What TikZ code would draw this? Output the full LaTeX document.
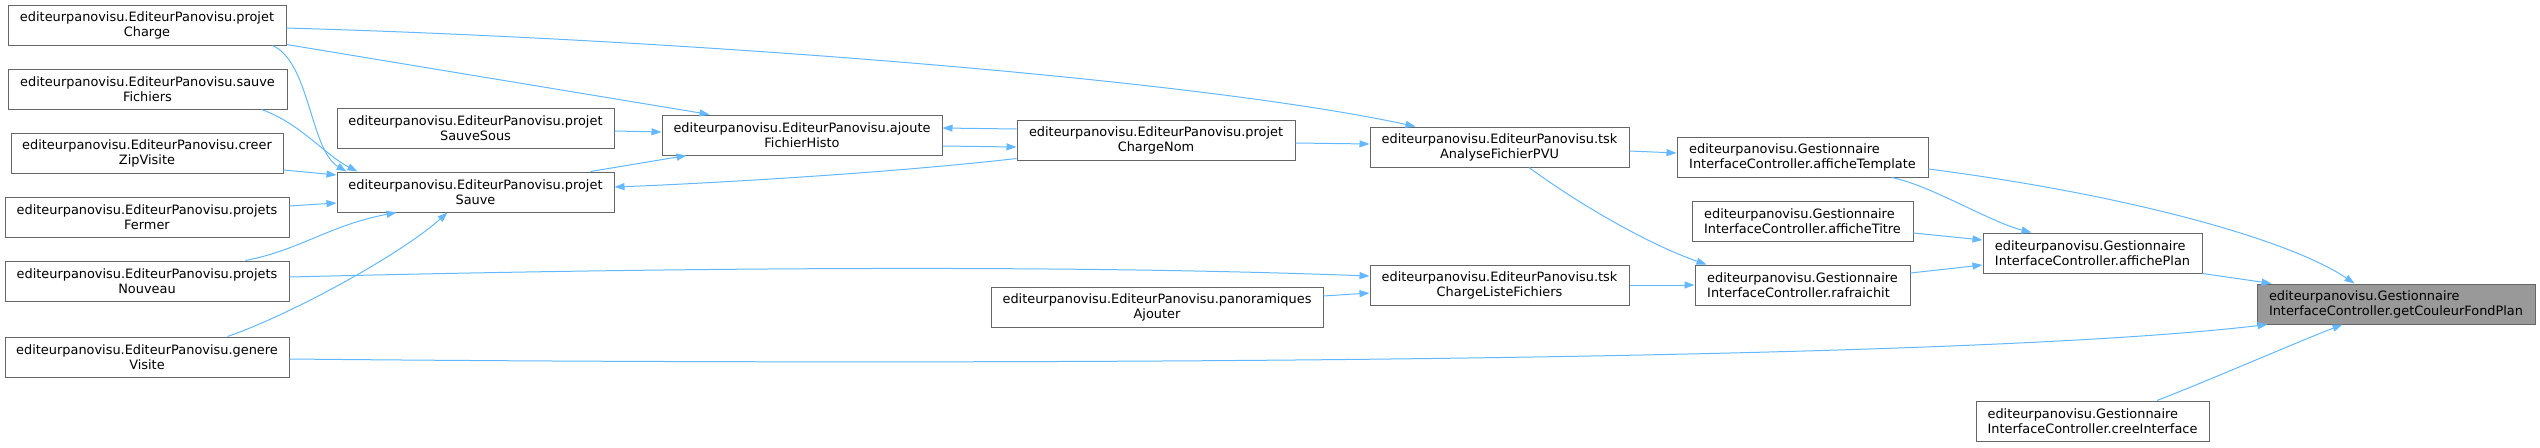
\documentclass[tikz,border=0pt]{standalone}
\usepackage{fontspec}
\setmainfont{DejaVu Sans}
\usepackage{tikz}
\usetikzlibrary{arrows.meta,positioning}
\usepackage{xcolor}
\definecolor{edgeblue}{HTML}{63B8FF}
\definecolor{boxborder}{HTML}{666666}
\definecolor{rootgrey}{HTML}{999999}

\begin{document}
\begin{tikzpicture}[
  x=1pt, y=-1pt,
  >={Triangle[length=10pt,width=7pt]},
  fnbox/.style={
    draw=boxborder,
    fill=white,
    line width=1pt,
    minimum height=40pt,
    inner xsep=6pt,
    inner ysep=0pt,
    font=\fontsize{12.9}{15}\selectfont,
    align=center
  },
  gbox/.style={
    fnbox,
    align=left
  },
  rootbox/.style={
    gbox,
    fill=rootgrey
  },
  calledge/.style={
    ->,
    draw=edgeblue,
    line width=1pt
  }
]
  \useasboundingbox (0,0) rectangle (2540,447);

  % Callers in EditeurPanovisu (left column)
  \node[fnbox, minimum width=278pt] (pc) at (147,25) {editeurpanovisu.EditeurPanovisu.projet\\Charge};
  \node[fnbox, minimum width=279pt] (sf) at (147.5,89) {editeurpanovisu.EditeurPanovisu.sauve\\Fichiers};
  \node[fnbox, minimum width=272pt] (cz) at (147,153) {editeurpanovisu.EditeurPanovisu.creer\\ZipVisite};
  \node[fnbox, minimum width=284pt] (pf) at (147,217) {editeurpanovisu.EditeurPanovisu.projets\\Fermer};
  \node[fnbox, minimum width=284pt] (pn) at (147,281) {editeurpanovisu.EditeurPanovisu.projets\\Nouveau};
  \node[fnbox, minimum width=284pt] (gv) at (147,357) {editeurpanovisu.EditeurPanovisu.genere\\Visite};

  % Second column
  \node[fnbox, minimum width=277pt] (pss) at (475.5,128) {editeurpanovisu.EditeurPanovisu.projet\\SauveSous};
  \node[fnbox, minimum width=277pt] (ps) at (475.5,192) {editeurpanovisu.EditeurPanovisu.projet\\Sauve};

  % Middle columns
  \node[fnbox, minimum width=280pt] (afh) at (802,135) {editeurpanovisu.EditeurPanovisu.ajoute\\FichierHisto};
  \node[fnbox, minimum width=278pt] (pcn) at (1156,140) {editeurpanovisu.EditeurPanovisu.projet\\ChargeNom};
  \node[fnbox, minimum width=332pt] (pa) at (1157,307) {editeurpanovisu.EditeurPanovisu.panoramiques\\Ajouter};
  \node[fnbox, minimum width=259pt] (tka) at (1499.5,147) {editeurpanovisu.EditeurPanovisu.tsk\\AnalyseFichierPVU};
  \node[fnbox, minimum width=259pt] (tkc) at (1499.5,285) {editeurpanovisu.EditeurPanovisu.tsk\\ChargeListeFichiers};

  % GestionnaireInterfaceController
  \node[gbox, minimum width=251pt] (ate) at (1802.5,157) {editeurpanovisu.Gestionnaire\\InterfaceController.afficheTemplate};
  \node[gbox, minimum width=221pt] (ati) at (1802.5,221) {editeurpanovisu.Gestionnaire\\InterfaceController.afficheTitre};
  \node[gbox, minimum width=215pt] (raf) at (1802.5,285) {editeurpanovisu.Gestionnaire\\InterfaceController.rafraichit};
  \node[gbox, minimum width=219pt] (apl) at (2092.5,253) {editeurpanovisu.Gestionnaire\\InterfaceController.affichePlan};
  \node[gbox, minimum width=233pt] (cri) at (2092.5,421) {editeurpanovisu.Gestionnaire\\InterfaceController.creeInterface};
  \node[rootbox, minimum width=278pt] (gcf) at (2396,304) {editeurpanovisu.Gestionnaire\\InterfaceController.getCouleurFondPlan};

  % Calls into getCouleurFondPlan
  \draw[calledge] (apl.south east) -- ([xshift=15pt]gcf.north west);
  \draw[calledge] ([yshift=-12pt]ate.east) .. controls (2130,195) and (2290,240) .. ([xshift=98pt]gcf.north west);
  \draw[calledge] ([yshift=-2pt]gv.east) .. controls (1000,366) and (1950,362) .. ([xshift=11pt]gcf.south west);
  \draw[calledge] ([xshift=64.5pt]cri.north) .. controls (2210,380) and (2290,345) .. ([xshift=86pt]gcf.south west);

  % Calls into affichePlan
  \draw[calledge] ([xshift=-37pt]ate.south east) .. controls (1930,185) and (1990,222) .. ([xshift=49pt]apl.north west);
  \draw[calledge] ([yshift=-12pt]ati.east) -- ([yshift=13pt]apl.west);
  \draw[calledge] ([yshift=12pt]raf.east) -- ([yshift=-12pt]apl.west);

  % Calls into afficheTemplate and rafraichit
  \draw[calledge] ([yshift=-4pt]tka.east) -- ([yshift=4pt]ate.west);
  \draw[calledge] ([xshift=29.5pt]tka.south) .. controls (1580,205) and (1650,245) .. ([xshift=12pt]raf.north west);
  \draw[calledge] (tkc.east) -- (raf.west);

  % Calls into the tsk tasks
  \draw[calledge] ([yshift=-3pt]pcn.east) -- ([yshift=3pt]tka.west);
  \draw[calledge] ([yshift=-3pt]pc.east) .. controls (700,40) and (1200,80) .. ([xshift=46pt]tka.north west);
  \draw[calledge] ([yshift=4pt]pn.east) .. controls (650,268) and (1050,264) .. ([yshift=9pt]tkc.west);
  \draw[calledge] ([yshift=11pt]pa.east) -- ([yshift=-8pt]tkc.west);

  % ajouteFichierHisto and projetChargeNom
  \draw[calledge] ([yshift=-11pt]afh.east) -- ([yshift=-7pt]pcn.west);
  \draw[calledge] ([yshift=11pt]pcn.west) -- ([yshift=7pt]afh.east);
  \draw[calledge] ([yshift=1pt]pc.south east) -- ([xshift=48pt]afh.north west);
  \draw[calledge] ([yshift=-3pt]pss.east) -- ([yshift=3pt]afh.west);
  \draw[calledge] ([xshift=-24pt]ps.north east) -- ([xshift=25pt]afh.south west);

  % Calls into projetSauve
  \draw[calledge] ([yshift=2pt]pcn.south west) .. controls (900,172) and (720,183) .. ([yshift=5pt]ps.east);
  \draw[calledge] ([xshift=-14pt]pc.south east) .. controls (310,62) and (310,150) .. ([xshift=10pt]ps.north west);
  \draw[calledge] ([xshift=-26pt]sf.south east) .. controls (300,123) and (325,155) .. ([xshift=21pt]ps.north west);
  \draw[calledge] ([yshift=-17pt]cz.east) -- ([yshift=17pt]ps.west);
  \draw[calledge] ([yshift=11pt]pf.east) -- ([yshift=-11pt]ps.west);
  \draw[calledge] ([xshift=-44pt]pn.north east) .. controls (300,250) and (330,225) .. ([xshift=60pt]ps.south west);
  \draw[calledge] ([xshift=-62pt]gv.north east) .. controls (290,315) and (400,255) .. ([xshift=111pt]ps.south west);

\end{tikzpicture}
\end{document}
